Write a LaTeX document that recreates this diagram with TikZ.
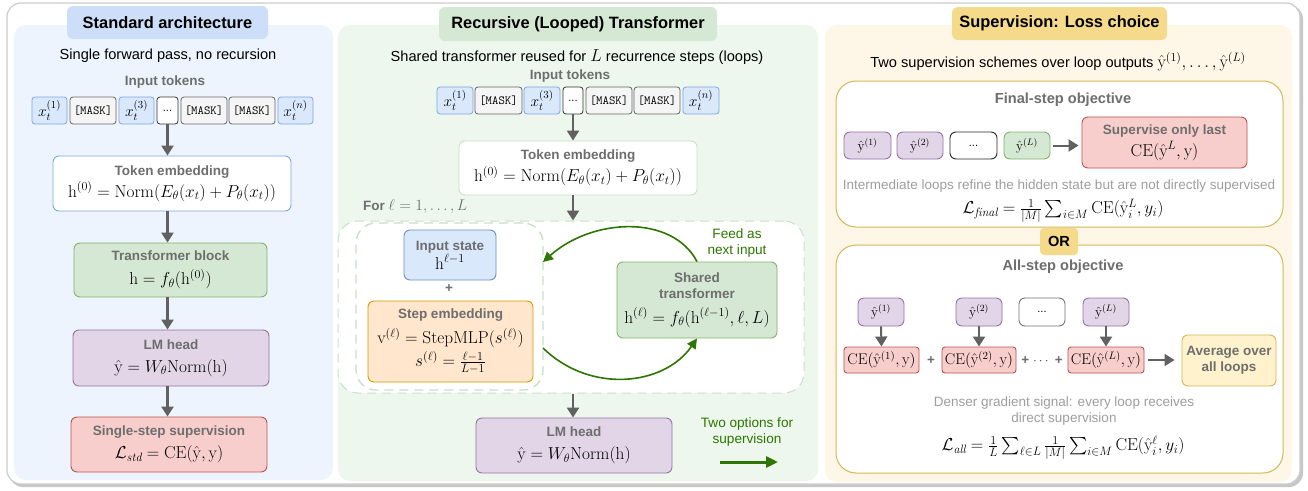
\RequirePackage{fix-cm}
\documentclass[tikz,border=0pt]{standalone}
\usepackage{amsmath}
\usepackage{fontspec}
\setsansfont{Liberation Sans}
\usetikzlibrary{arrows.meta,calc}

\definecolor{bluePanel}{HTML}{EEF4FD}
\definecolor{greenPanel}{HTML}{EDF7ED}
\definecolor{yellowPanel}{HTML}{FEF7E7}
\definecolor{blueTab}{HTML}{CDDFF8}
\definecolor{greenTab}{HTML}{D5E8D4}
\definecolor{yellowTab}{HTML}{F6DA8B}
\definecolor{blueFill}{HTML}{DAE8FC}
\definecolor{blueLine}{HTML}{6C8EBF}
\definecolor{blueEdge}{HTML}{7EA6E0}
\definecolor{greenFill}{HTML}{D5E8D4}
\definecolor{greenLine}{HTML}{82B366}
\definecolor{purpleFill}{HTML}{E1D5E7}
\definecolor{purpleLine}{HTML}{9673A6}
\definecolor{redFill}{HTML}{F8CECC}
\definecolor{redLine}{HTML}{B85450}
\definecolor{orangeFill}{HTML}{FFE6CC}
\definecolor{orangeLine}{HTML}{D79B00}
\definecolor{yellowFill}{HTML}{FFF2CC}
\definecolor{yellowLine}{HTML}{D6B656}
\definecolor{tokGray}{HTML}{F5F5F5}
\definecolor{labelGray}{HTML}{6E6E6E}
\definecolor{noteGray}{HTML}{9E9E9E}
\definecolor{arrowGray}{HTML}{616161}
\definecolor{loopGreen}{HTML}{2D7600}
\definecolor{dashGreen}{HTML}{C9E0C9}

\newcommand\titlefont{\fontsize{16.4}{19}\selectfont\sffamily\bfseries}
\newcommand\subfont{\fontsize{14.6}{17}\selectfont\sffamily}
\newcommand\labfont{\fontsize{13.5}{16}\selectfont\sffamily\bfseries\color{labelGray}}
\newcommand\hdrfont{\fontsize{14.6}{17}\selectfont\sffamily\bfseries\color{labelGray}}
\newcommand\mathfont{\fontsize{17.3}{20}\selectfont}
\newcommand\tokfont{\fontsize{15.5}{17}\selectfont}
\newcommand\notefont{\fontsize{13.5}{16}\selectfont\sffamily\color{noteGray}}
\newcommand\greenfont{\fontsize{13.6}{16}\selectfont\sffamily\color{loopGreen}}

% node placed by its corner coordinates: style, name, x1, y1, x2, y2
\newcommand\bx[6]{%
  \pgfmathsetmacro\bxcx{(#3+#5)/2}\pgfmathsetmacro\bxcy{(#4+#6)/2}%
  \pgfmathsetmacro\bxw{#5-#3}\pgfmathsetmacro\bxh{#6-#4}%
  \node[#1, minimum width=\bxw pt, minimum height=\bxh pt] (#2) at (\bxcx,\bxcy)}

\begin{document}
\begin{tikzpicture}[x=1pt,y=-1pt,
  tab/.style={rounded corners=6pt, inner sep=0pt, font=\titlefont},
  box/.style={rounded corners=6pt, line width=0.9pt, inner sep=0pt, align=center, font=\mathfont},
  tok/.style={rounded corners=3pt, line width=0.8pt, inner sep=0pt, font=\tokfont},
  tokb/.style={tok, fill=blueFill, draw=blueEdge},
  tokg/.style={tok, fill=tokGray, draw=black!60, font=\fontsize{12.4}{14}\selectfont\ttfamily},
  tokw/.style={tok, fill=white, draw=black!80, font=\fontsize{11}{13}\selectfont\sffamily},
  bluebox/.style={box, fill=blueFill, draw=blueLine},
  greenbox/.style={box, fill=greenFill, draw=greenLine},
  purplebox/.style={box, fill=purpleFill, draw=purpleLine},
  redbox/.style={box, fill=redFill, draw=redLine},
  orangebox/.style={box, fill=orangeFill, draw=orangeLine},
  yellowbox/.style={box, fill=yellowFill, draw=yellowLine},
  group/.style={rounded corners=20pt, line width=1pt, inner sep=0pt},
  ybox/.style={box, font=\fontsize{13.5}{15}\selectfont},
  garr/.style={draw=arrowGray, line width=2.4pt, -{Triangle[length=10pt,width=12pt]}},
  larr/.style={draw=loopGreen, line width=1.6pt, -{Triangle[length=10pt,width=10pt]}},
  txt/.style={inner sep=0pt, align=center}
]
\useasboundingbox (0,0) rectangle (1308,490);

% outer frame with a soft shadow
\fill[black!22, rounded corners=14pt] (9,5) rectangle (1303,487);
\draw[black!20, fill=white, line width=1.2pt, rounded corners=14pt] (7,3) rectangle (1300,484);

% column backgrounds
\fill[bluePanel, rounded corners=12pt] (14,25) rectangle (333,480);
\fill[greenPanel, rounded corners=12pt] (338,25) rectangle (818,481);
\fill[yellowPanel, rounded corners=12pt] (825,25) rectangle (1292,482);

% column titles
\bx{tab, fill=blueTab}{tabA}{67}{6}{268}{39}{Standard architecture};
\bx{tab, fill=greenTab}{tabB}{439}{7}{717}{41}{Recursive (Looped) Transformer};
\bx{tab, fill=yellowTab}{tabC}{952}{7}{1167}{40}{Supervision: Loss choice};

%% ---------- standard architecture ----------
\node[txt, font=\subfont] (subA) at (168,56) {Single forward pass, no recursion};
\node[txt, font=\labfont] (inA) at (165,82) {Input tokens};
\bx{tokb}{a1}{32}{97}{67}{124}{$x_t^{(1)}$};
\bx{tokg}{a2}{70}{97}{116}{124}{[MASK]};
\bx{tokb}{a3}{119}{97}{154}{124}{$x_t^{(3)}$};
\bx{tokw}{a4}{157}{97}{178}{124}{...};
\bx{tokg}{a5}{181}{97}{227}{124}{[MASK]};
\bx{tokg}{a6}{229}{97}{275}{124}{[MASK]};
\bx{tokb}{a7}{278}{97}{313}{124}{$x_t^{(n)}$};

\bx{box, fill=white, draw=blueEdge}{teA}{53}{156}{291}{211}
  {{\labfont Token embedding}\\[2pt] $\mathrm{h}^{(0)}=\mathrm{Norm}(E_\theta(x_t)+P_\theta(x_t))$};
\bx{greenbox}{tbA}{74}{243}{267}{297}
  {{\labfont Transformer block}\\[4pt] $\mathrm{h}=f_\theta(\mathrm{h}^{(0)})$};
\bx{purplebox}{lmA}{73}{330}{269}{386}
  {{\labfont LM head}\\[3pt] $\hat{\mathrm{y}}=W_\theta\mathrm{Norm}(\mathrm{h})$};
\bx{redbox}{ssA}{71}{417}{267}{472}
  {{\labfont Single-step supervision}\\[3pt] $\mathcal{L}_{\mathit{std}}=\mathrm{CE}(\hat{\mathrm{y}},\mathrm{y})$};

\draw[garr] (a4.south) -- (a4.south |- teA.north);
\draw[garr] (a4 |- teA.south) -- (a4 |- tbA.north);
\draw[garr] (a4 |- tbA.south) -- (a4 |- lmA.north);
\draw[garr] (a4 |- lmA.south) -- (a4 |- ssA.north);

%% ---------- recursive transformer ----------
\node[txt, font=\subfont] (subB) at (577,57) {Shared transformer reused for {\mathfont$L$} recurrence steps (loops)};
\node[txt, font=\labfont] (inB) at (570,76) {Input tokens};
\bx{tokb}{m1}{437}{87}{473}{114}{$x_t^{(1)}$};
\bx{tokg}{m2}{475}{87}{522}{114}{[MASK]};
\bx{tokb}{m3}{524}{87}{560}{114}{$x_t^{(3)}$};
\bx{tokw}{m4}{563}{87}{583}{114}{...};
\bx{tokg}{m5}{586}{87}{632}{114}{[MASK]};
\bx{tokg}{m6}{634}{87}{680}{114}{[MASK]};
\bx{tokb}{m7}{683}{87}{719}{114}{$x_t^{(n)}$};

\bx{box, fill=white, draw=dashGreen}{teB}{459}{141}{697}{195}
  {{\labfont Token embedding}\\[2pt] $\mathrm{h}^{(0)}=\mathrm{Norm}(E_\theta(x_t)+P_\theta(x_t))$};

\node[txt, anchor=west, font=\labfont] (forB) at (363,207) {For {\fontsize{15.5}{17}\selectfont$\ell=1,\ldots,L$}};

\bx{group, fill=white, draw=dashGreen, dash pattern=on 9pt off 6pt}{loop}{338}{221}{804}{393}{};
\bx{group, draw=dashGreen, line width=1.4pt, dash pattern=on 9pt off 6pt}{stepgrp}{356}{223}{543}{390}{};

\bx{bluebox}{inpB}{404}{230}{496}{280}
  {{\labfont Input state}\\[-1pt] $\mathrm{h}^{\ell-1}$};
\node[txt, font=\labfont] (plusB) at (449,289) {+};
\bx{orangebox}{stepB}{368}{301}{533}{382}
  {{\labfont Step embedding}\\[5pt] $\mathrm{v}^{(\ell)}=\mathrm{StepMLP}(s^{(\ell)})$\\[3pt] $s^{(\ell)}=\frac{\ell-1}{L-1}$};
\bx{greenbox}{shB}{617}{262}{777}{338}
  {{\labfont Shared}\\[-4pt]{\labfont transformer}\\[5pt] $\mathrm{h}^{(\ell)}=f_\theta(\mathrm{h}^{(\ell-1)},\ell,L)$};
\node[txt, font=\greenfont] (feedB) at (737,243) {Feed as\\next input};

\coordinate (loopIn) at (543,262);
\coordinate (loopOut) at (543,348);
\draw[larr] (shB.north) .. controls (672,214) and (592,218) .. (loopIn);
\draw[larr] (loopOut) .. controls (590,394) and (664,386) .. (shB.south);

\bx{purplebox}{lmB}{476}{418}{672}{473}
  {{\labfont LM head}\\[3pt] $\hat{\mathrm{y}}=W_\theta\mathrm{Norm}(\mathrm{h})$};

\draw[garr] (m4.south) -- (m4.south |- teB.north);
\draw[garr] (m4 |- teB.south) -- (m4 |- loop.north);
\draw[garr] (m4 |- loop.south) -- (m4 |- lmB.north);

\node[txt, font=\greenfont] (optB) at (747,432) {Two options for\\supervision};
\coordinate (optS) at (720,462);
\coordinate (optE) at (778,462);
\draw[draw=loopGreen, line width=3pt, -{Triangle[length=12pt,width=11pt]}] (optS) -- (optE);

%% ---------- supervision ----------
\node[txt, font=\subfont] (subC) at (1058,62)
  {Two supervision schemes over loop outputs {\mathfont$\hat{\mathrm{y}}^{(1)},\ldots,\hat{\mathrm{y}}^{(L)}$}};

% final-step objective
\bx{group, fill=white, draw=yellowLine}{finC}{836}{81}{1283}{227}{};
\node[txt, font=\hdrfont] (finH) at (1063,100) {Final-step objective};
\bx{ybox, fill=purpleFill, draw=purpleLine}{f1}{844}{132}{891}{159}{$\hat{\mathrm{y}}^{(1)}$};
\bx{ybox, fill=purpleFill, draw=purpleLine}{f2}{897}{132}{943}{159}{$\hat{\mathrm{y}}^{(2)}$};
\bx{ybox, fill=white, draw=black!85, font=\fontsize{11}{13}\selectfont\sffamily}{fd}{950}{132}{997}{159}{...};
\bx{ybox, fill=greenFill, draw=greenLine}{fL}{1004}{132}{1050}{159}{$\hat{\mathrm{y}}^{(L)}$};
\bx{redbox}{supC}{1082}{117}{1247}{168}
  {{\labfont Supervise only last}\\[2pt] $\mathrm{CE}(\hat{\mathrm{y}}^{L},\mathrm{y})$};
\draw[garr, line width=2pt, shorten <=3pt, shorten >=3pt] (fL.east) -- (fL.east -| supC.west);
\node[txt, font=\notefont] (noteF) at (1059,186)
  {Intermediate loops refine the hidden state but are not directly supervised};
\node[txt, font=\mathfont] (lossF) at (1063,211)
  {$\mathcal{L}_{\mathit{final}}=\frac{1}{|M|}\sum_{i\in M}\mathrm{CE}(\hat{\mathrm{y}}_i^{L},y_i)$};

% all-step objective
\bx{group, fill=white, draw=yellowLine}{allC}{836}{245}{1283}{473}{};
\bx{tab, fill=yellowTab, rounded corners=4pt, font=\fontsize{14.6}{17}\selectfont\sffamily\bfseries}{orC}{1040}{228}{1078}{255}{OR};
\node[txt, font=\hdrfont] (allH) at (1063,267) {All-step objective};
\bx{ybox, fill=purpleFill, draw=purpleLine}{g1}{858}{298}{904}{326}{$\hat{\mathrm{y}}^{(1)}$};
\bx{ybox, fill=purpleFill, draw=purpleLine}{g2}{956}{298}{1002}{326}{$\hat{\mathrm{y}}^{(2)}$};
\bx{ybox, fill=white, draw=black!55, font=\fontsize{11}{13}\selectfont\sffamily}{gd}{1019}{298}{1065}{326}{...};
\bx{ybox, fill=purpleFill, draw=purpleLine}{gL}{1083}{298}{1129}{326}{$\hat{\mathrm{y}}^{(L)}$};
\bx{redbox, font=\fontsize{15.5}{18}\selectfont, rounded corners=3pt}{c1}{844}{347}{919}{373}{$\mathrm{CE}(\hat{\mathrm{y}}^{(1)},\mathrm{y})$};
\bx{redbox, font=\fontsize{15.5}{18}\selectfont, rounded corners=3pt}{c2}{942}{347}{1016}{373}{$\mathrm{CE}(\hat{\mathrm{y}}^{(2)},\mathrm{y})$};
\bx{redbox, font=\fontsize{15.5}{18}\selectfont, rounded corners=3pt}{c3}{1068}{347}{1144}{373}{$\mathrm{CE}(\hat{\mathrm{y}}^{(L)},\mathrm{y})$};
\node[txt, font=\labfont] (p1) at (931,361) {+};
\node[txt, font=\labfont] (p2) at (1042,361) {+ {\color{black!70}$\cdots$} +};
\bx{yellowbox, font=\labfont}{avgC}{1182}{335}{1276}{386}{Average over\\all loops};
\draw[garr, line width=2pt] (g1.south) -- (c1.north);
\draw[garr, line width=2pt] (g2.south) -- (c2.north);
\draw[garr, line width=2pt] (gL.south) -- (c3.north);
\draw[garr, line width=2pt, shorten <=4pt, shorten >=7pt] (c3.east) -- (c3.east -| avgC.west);
\node[txt, font=\notefont] (noteA) at (1064,411)
  {Denser gradient signal: every loop receives\\direct supervision};
\node[txt, font=\mathfont] (lossA) at (1063,448)
  {$\mathcal{L}_{\mathit{all}}=\frac{1}{L}\sum_{\ell\in L}\frac{1}{|M|}\sum_{i\in M}\mathrm{CE}(\hat{\mathrm{y}}_i^{\ell},y_i)$};
\end{tikzpicture}
\end{document}
